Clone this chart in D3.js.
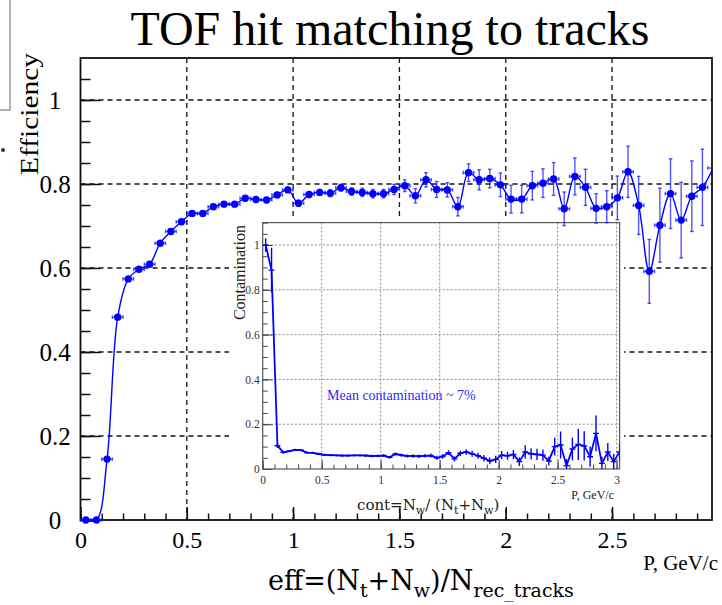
<!DOCTYPE html>
<html lang="en">
<head>
<meta charset="utf-8">
<title>TOF hit matching to tracks</title>
<script src="https://d3js.org/d3.v7.min.js"></script>
<style>
  body { margin: 0; background: #fff; }
  svg { display: block; }
</style>
</head>
<body>
<div id="chart"></div>
<script>
// bin centres in P (GeV/c), 0.05 wide bins
const momentum = [0.025, 0.075, 0.125, 0.175, 0.225, 0.275, 0.325, 0.375, 0.425, 0.475,
  0.525, 0.575, 0.625, 0.675, 0.725, 0.775, 0.825, 0.875, 0.925, 0.975,
  1.025, 1.075, 1.125, 1.175, 1.225, 1.275, 1.325, 1.375, 1.425, 1.475,
  1.525, 1.575, 1.625, 1.675, 1.725, 1.775, 1.825, 1.875, 1.925, 1.975,
  2.025, 2.075, 2.125, 2.175, 2.225, 2.275, 2.325, 2.375, 2.425, 2.475,
  2.525, 2.575, 2.625, 2.675, 2.725, 2.775, 2.825, 2.875, 2.925, 2.975, 3.025]
const binHalf = 0.025

const efficiency = [0, 0, 0.145, 0.483, 0.574, 0.597, 0.609, 0.659, 0.687, 0.710,
  0.730, 0.730, 0.746, 0.752, 0.752, 0.766, 0.763, 0.762, 0.774, 0.786,
  0.754, 0.775, 0.780, 0.778, 0.791, 0.782, 0.780, 0.777, 0.777, 0.787,
  0.796, 0.772, 0.810, 0.787, 0.786, 0.746, 0.827, 0.810, 0.813, 0.798,
  0.764, 0.764, 0.796, 0.802, 0.812, 0.741, 0.818, 0.792, 0.742, 0.746,
  0.767, 0.829, 0.749, 0.592, 0.702, 0.777, 0.714, 0.771, 0.792, 0.838]
const effError = [0.002, 0.002, 0.004, 0.005, 0.005, 0.005, 0.005, 0.005, 0.005, 0.005,
  0.005, 0.005, 0.005, 0.005, 0.005, 0.006, 0.006, 0.006, 0.006, 0.006,
  0.007, 0.007, 0.007, 0.008, 0.008, 0.009, 0.010, 0.010, 0.010, 0.012,
  0.014, 0.017, 0.017, 0.019, 0.017, 0.022, 0.021, 0.024, 0.022, 0.028,
  0.033, 0.033, 0.034, 0.034, 0.039, 0.040, 0.044, 0.043, 0.035, 0.038,
  0.052, 0.061, 0.069, 0.076, 0.088, 0.083, 0.090, 0.084, 0.091, 0.090]

const contamination = [1.0, 0.888, 0.104, 0.074, 0.080, 0.085, 0.084, 0.073, 0.072, 0.067,
  0.063, 0.062, 0.061, 0.060, 0.060, 0.061, 0.061, 0.060, 0.058, 0.059,
  0.060, 0.052, 0.067, 0.062, 0.058, 0.058, 0.057, 0.059, 0.060, 0.050,
  0.056, 0.073, 0.045, 0.070, 0.076, 0.068, 0.059, 0.048, 0.036, 0.043,
  0.062, 0.059, 0.065, 0.033, 0.076, 0.068, 0.065, 0.062, 0.036, 0.100,
  0.107, 0.015, 0.089, 0.110, 0.103, 0.055, 0.159, 0.025, 0.076, 0.033, 0.076]
const contError = [0.030, 0.100, 0.010, 0.005, 0.005, 0.005, 0.005, 0.005, 0.005, 0.005,
  0.005, 0.005, 0.005, 0.005, 0.005, 0.005, 0.005, 0.006, 0.006, 0.006,
  0.006, 0.006, 0.007, 0.007, 0.007, 0.008, 0.008, 0.008, 0.009, 0.009,
  0.010, 0.011, 0.011, 0.012, 0.012, 0.013, 0.013, 0.014, 0.015, 0.016,
  0.018, 0.018, 0.020, 0.020, 0.030, 0.025, 0.025, 0.025, 0.020, 0.040,
  0.060, 0.030, 0.050, 0.070, 0.065, 0.045, 0.080, 0.030, 0.040, 0.035, 0.040]

const mainXTicks = [0, 0.5, 1, 1.5, 2, 2.5]
const mainYTicks = [0, 0.2, 0.4, 0.6, 0.8, 1]
const insetXTicks = [0, 0.5, 1, 1.5, 2, 2.5, 3]
const insetYTicks = [0, 0.2, 0.4, 0.6, 0.8, 1]

const W = 722, H = 605
const blue = "#0000ff"
const errBlue = "rgba(20,20,255,0.72)"
const serif = "'Liberation Serif', 'Times New Roman', serif"
const wideSerif = "'DejaVu Serif', serif"

const svg = d3.select("#chart").append("svg")
    .attr("width", W)
    .attr("height", H)
    .style("font-family", serif)

// ---- scales
const x = d3.scaleLinear().domain([0, 2.97]).range([80.5, 712])
const y = d3.scaleLinear().domain([0, 1.1]).range([520, 58])
const ix = d3.scaleLinear().domain([0, 3.025]).range([262.7, 619.6])
const iy = d3.scaleLinear().domain([0, 1.1]).range([469, 222.6])

const effData = efficiency.map((v, i) => ({p: momentum[i], v: v, e: effError[i]}))
const contData = contamination.map((v, i) => ({p: momentum[i], v: v, e: contError[i]}))

svg.append("defs").append("clipPath").attr("id", "mainClip")
  .append("rect").attr("x", 0).attr("y", 0).attr("width", x(2.97)).attr("height", H)
svg.select("defs").append("clipPath").attr("id", "insetClip")
  .append("rect").attr("x", ix(0)).attr("y", iy(1.1)).attr("width", ix(3.025) - ix(0)).attr("height", iy(0) - iy(1.1))

// ---- left edge remnant of neighbouring figure
svg.append("rect").attr("x", -2).attr("y", -2).attr("width", 12).attr("height", 112)
  .attr("fill", "none").attr("stroke", "#666").attr("stroke-width", 1)
svg.append("circle").attr("cx", 3).attr("cy", 150).attr("r", 2).attr("fill", "#333")

// ---- main grid
const grid = svg.append("g").attr("stroke", "#111").attr("stroke-width", 1.3).attr("stroke-dasharray", "5,4")
grid.selectAll(".gx").data(mainXTicks.filter(d => d > 0)).join("line")
    .attr("x1", d => x(d)).attr("x2", d => x(d))
    .attr("y1", y(1.1)).attr("y2", y(0))
grid.selectAll(".gy").data(mainYTicks.filter(d => d > 0)).join("line")
    .attr("x1", x(0)).attr("x2", x(2.97))
    .attr("y1", d => y(d)).attr("y2", d => y(d))

// ---- inset pad (white, hides main grid)
svg.append("rect").attr("x", 229).attr("y", 216).attr("width", 395).attr("height", 293).attr("fill", "#fff")

// ---- main axes
const xMinor = d3.range(0, 29.7).map(k => k / 10)
const yMinor = d3.range(0, 22).map(k => k / 20)

svg.append("g")
    .attr("transform", "translate(0," + y(0) + ")")
    .call(d3.axisBottom(x).tickValues(xMinor).tickSize(-6.5).tickFormat(""))
svg.append("g")
    .attr("transform", "translate(0," + y(0) + ")")
    .call(d3.axisBottom(x).tickValues(mainXTicks).tickSize(-13).tickPadding(11).tickFormat(d => String(d)))
    .call(g => g.attr("font-family", null).style("font-family", serif))
    .call(g => g.selectAll("text").attr("fill", "#000").style("font-family", serif).style("font-size", "24px"))
svg.append("g")
    .attr("transform", "translate(" + x(0) + ",0)")
    .call(d3.axisLeft(y).tickValues(yMinor).tickSize(-10).tickFormat(""))
svg.append("g")
    .attr("transform", "translate(" + x(0) + ",0)")
    .call(d3.axisLeft(y).tickValues(mainYTicks).tickSize(-20).tickFormat(d => String(d)))
    .call(g => g.attr("font-family", null).style("font-family", serif))
    .call(g => g.selectAll("text").attr("fill", "#000").style("font-family", serif).style("font-size", "25px")
        .attr("text-anchor", "middle").attr("x", -25.5))
svg.selectAll(".domain").remove()
svg.selectAll(".tick line").attr("stroke", "#111").attr("stroke-width", 1.5)

svg.append("rect")
    .attr("x", x(0)).attr("y", y(1.1))
    .attr("width", x(2.97) - x(0)).attr("height", y(0) - y(1.1))
    .attr("fill", "none").attr("stroke", "#111").attr("stroke-width", 1.8)

// ---- inset
const inset = svg.append("g")
const igrid = inset.append("g").attr("stroke", "#8a8a8a").attr("stroke-width", 1).attr("stroke-dasharray", "2,2")
igrid.selectAll(".gx").data(insetXTicks.filter(d => d > 0)).join("line")
    .attr("x1", d => ix(d)).attr("x2", d => ix(d))
    .attr("y1", iy(1.1)).attr("y2", iy(0))
igrid.selectAll(".gy").data(insetYTicks.filter(d => d > 0)).join("line")
    .attr("x1", ix(0)).attr("x2", ix(3.025))
    .attr("y1", d => iy(d)).attr("y2", d => iy(d))

const ixMinor = d3.range(0, 31).map(k => k / 10)
const iyMinor = d3.range(0, 23).map(k => k / 20)
inset.append("g")
    .attr("transform", "translate(0," + iy(0) + ")")
    .call(d3.axisBottom(ix).tickValues(ixMinor).tickSize(-4.5).tickFormat(""))
inset.append("g")
    .attr("transform", "translate(0," + iy(0) + ")")
    .call(d3.axisBottom(ix).tickValues(insetXTicks).tickSize(-9).tickPadding(7).tickFormat(d => String(d)))
    .call(g => g.attr("font-family", null).style("font-family", serif))
    .call(g => g.selectAll("text").attr("fill", "#333").style("font-family", serif).style("font-size", "11.5px"))
inset.append("g")
    .attr("transform", "translate(" + ix(0) + ",0)")
    .call(d3.axisLeft(iy).tickValues(iyMinor).tickSize(-5).tickFormat(""))
inset.append("g")
    .attr("transform", "translate(" + ix(0) + ",0)")
    .call(d3.axisLeft(iy).tickValues(insetYTicks).tickSize(-10).tickPadding(3).tickFormat(d => String(d)))
    .call(g => g.attr("font-family", null).style("font-family", serif))
    .call(g => g.selectAll("text").attr("fill", "#333").style("font-family", serif).style("font-size", "11.5px"))
inset.selectAll(".domain").remove()
inset.selectAll(".tick line").attr("stroke", "#444").attr("stroke-width", 1)

inset.append("rect")
    .attr("x", ix(0)).attr("y", iy(1.1))
    .attr("width", ix(3.025) - ix(0)).attr("height", iy(0) - iy(1.1))
    .attr("fill", "none").attr("stroke", "#555").attr("stroke-width", 1.2)

// inset data
const ic = inset.append("g").attr("clip-path", "url(#insetClip)")
ic.append("g").attr("stroke", blue).attr("stroke-width", 1.4)
  .selectAll("g").data(contData).join("g")
  .each(function(d) {
      const g = d3.select(this)
      g.append("line").attr("x1", ix(d.p)).attr("x2", ix(d.p)).attr("y1", iy(d.v - d.e)).attr("y2", iy(d.v + d.e))
      g.append("line").attr("x1", ix(d.p - binHalf)).attr("x2", ix(d.p + binHalf)).attr("y1", iy(d.v)).attr("y2", iy(d.v))
  })
ic.append("path")
    .datum(contData)
    .attr("fill", "none").attr("stroke", blue).attr("stroke-width", 1.8)
    .attr("d", d3.line().x(d => ix(d.p)).y(d => iy(d.v)))

inset.append("text")
    .attr("transform", "translate(245,225) rotate(-90)")
    .attr("text-anchor", "end")
    .attr("fill", "#222")
    .style("font-size", "16px")
    .text("Contamination")

inset.append("text")
    .attr("x", 614).attr("y", 499)
    .attr("text-anchor", "end")
    .attr("fill", "#222")
    .style("font-size", "12px")
    .text("P, GeV/c")

inset.append("text")
    .attr("x", 327).attr("y", 400)
    .attr("fill", "#2a2aff")
    .style("font-size", "14px")
    .text("Mean contamination ~ 7%")

// text with subscripts: parts = [[text, isSub], ...]
function subText(sel, parts, size, subSize, drop) {
    let down = false
    parts.forEach(([t, sub]) => {
        const ts = sel.append("tspan").text(t).style("font-size", (sub ? subSize : size) + "px")
        if (sub && !down) { ts.attr("dy", drop); down = true }
        else if (!sub && down) { ts.attr("dy", -drop); down = false }
    })
}

const contLabel = inset.append("text").attr("x", 357).attr("y", 510).attr("fill", "#222").style("font-family", wideSerif)
subText(contLabel, [["cont=N", false], ["w", true], ["/ (N", false], ["t", true], ["+N", false], ["w", true], [")", false]], 15, 11, 4)

// ---- main data
const mc = svg.append("g").attr("clip-path", "url(#mainClip)")
mc.append("g").attr("stroke", errBlue).attr("stroke-width", 1.4)
  .selectAll("g").data(effData).join("g")
  .each(function(d) {
      const g = d3.select(this)
      const cx = x(d.p), cy = y(d.v)
      const top = y(d.v + d.e), bot = y(d.v - d.e)
      g.append("line").attr("x1", cx).attr("x2", cx).attr("y1", top).attr("y2", bot)
      g.append("line").attr("x1", cx - 1.8).attr("x2", cx + 1.8).attr("y1", top).attr("y2", top)
      g.append("line").attr("x1", cx - 1.8).attr("x2", cx + 1.8).attr("y1", bot).attr("y2", bot)
      const l = x(d.p - binHalf), r = x(d.p + binHalf)
      g.append("line").attr("x1", l).attr("x2", r).attr("y1", cy).attr("y2", cy)
      g.append("line").attr("x1", l).attr("x2", l).attr("y1", cy - 1.8).attr("y2", cy + 1.8)
      g.append("line").attr("x1", r).attr("x2", r).attr("y1", cy - 1.8).attr("y2", cy + 1.8)
  })
mc.append("path")
    .datum(effData)
    .attr("fill", "none").attr("stroke", blue).attr("stroke-width", 1.4)
    .attr("d", d3.line().curve(d3.curveCatmullRom).x(d => x(d.p)).y(d => y(d.v)))
svg.append("g").selectAll("circle")
    .data(effData.filter(d => d.p < 2.97))
    .join("circle")
    .attr("cx", d => x(d.p)).attr("cy", d => y(d.v))
    .attr("r", 3.7).attr("fill", blue)

// ---- titles
svg.append("text")
    .attr("x", 390).attr("y", 45)
    .attr("text-anchor", "middle")
    .style("font-size", "48px")
    .text("TOF hit matching to tracks")

svg.append("text")
    .attr("transform", "translate(38,53) rotate(-90)")
    .attr("text-anchor", "end")
    .attr("textLength", 122)
    .attr("lengthAdjust", "spacingAndGlyphs")
    .style("font-size", "25px")
    .text("Efficiency")

svg.append("text")
    .attr("x", 718).attr("y", 570)
    .attr("text-anchor", "end")
    .style("font-size", "21px")
    .text("P, GeV/c")

const effLabel = svg.append("text").attr("x", 268).attr("y", 590).style("font-family", wideSerif)
subText(effLabel, [["eff=(N", false], ["t", true], ["+N", false], ["w", true], [")/N", false], ["rec_tracks", true]], 27, 19, 7)
</script>
</body>
</html>
